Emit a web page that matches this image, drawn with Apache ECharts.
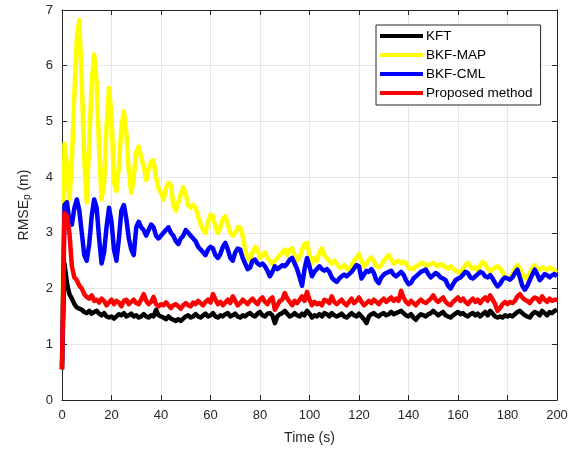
<!DOCTYPE html>
<html>
<head>
<meta charset="utf-8">
<script src="https://cdn.jsdelivr.net/npm/echarts@6/dist/echarts.min.js"></script>
<style>
  html, body { margin: 0; padding: 0; background: #fff; }
  #chart { width: 585px; height: 452px; }
</style>
</head>
<body>
<div id="chart"></div>
<script>
  // RMSE_p samples, one per second (t = 0 .. 200 s)
  const kft = [
    0.55, 2.45, 2.1, 1.9, 1.82, 1.72, 1.66, 1.64, 1.62, 1.58,
    1.56, 1.6, 1.55, 1.58, 1.6, 1.55, 1.52, 1.56, 1.5, 1.48,
    1.5, 1.46, 1.5, 1.54, 1.52, 1.56, 1.5, 1.52, 1.55, 1.5,
    1.52, 1.48, 1.5, 1.54, 1.5, 1.48, 1.52, 1.5, 1.62, 1.52,
    1.5, 1.48, 1.45, 1.5, 1.46, 1.44, 1.42, 1.45, 1.42, 1.46,
    1.5, 1.52, 1.48, 1.5, 1.54, 1.5, 1.48, 1.52, 1.55, 1.5,
    1.52, 1.56, 1.5, 1.48, 1.52, 1.5, 1.54, 1.56, 1.5, 1.52,
    1.55, 1.5, 1.48, 1.52, 1.5, 1.54, 1.56, 1.52, 1.5, 1.55,
    1.58, 1.52, 1.5, 1.55, 1.56, 1.52, 1.38, 1.5, 1.54, 1.56,
    1.6, 1.55, 1.5, 1.52, 1.56, 1.52, 1.5, 1.55, 1.52, 1.6,
    1.55, 1.48, 1.52, 1.5, 1.54, 1.5, 1.56, 1.54, 1.5, 1.56,
    1.52, 1.5, 1.52, 1.55, 1.5, 1.48, 1.52, 1.56, 1.52, 1.5,
    1.55, 1.5, 1.45, 1.38, 1.5, 1.54, 1.56, 1.52, 1.5, 1.54,
    1.56, 1.52, 1.54, 1.58, 1.54, 1.56, 1.58, 1.6, 1.56, 1.52,
    1.5, 1.54, 1.48, 1.44, 1.5, 1.54, 1.52, 1.5, 1.54, 1.56,
    1.6, 1.56, 1.52, 1.55, 1.58, 1.52, 1.5, 1.48, 1.52, 1.55,
    1.58, 1.54, 1.56, 1.52, 1.5, 1.54, 1.56, 1.52, 1.55, 1.5,
    1.54, 1.58, 1.52, 1.6, 1.55, 1.5, 1.48, 1.5, 1.48, 1.52,
    1.5, 1.52, 1.5, 1.54, 1.58, 1.6, 1.56, 1.52, 1.5, 1.48,
    1.54, 1.58, 1.56, 1.52, 1.6, 1.56, 1.52, 1.58, 1.56, 1.6,
    1.62
  ]

  const bkfMap = [
    0.6, 4.6, 4.2, 3.6, 4.3, 5.5, 6.5, 6.82, 5.7, 4.3,
    3.55, 4.6, 5.7, 6.2, 5.7, 4.5, 3.6, 3.9, 4.9, 5.6,
    5.1, 3.9, 3.75, 4.2, 4.9, 5.18, 4.8, 4.1, 3.72, 4.0,
    4.45, 4.55, 4.35, 4.2, 3.95, 4.15, 4.28, 4.3, 4.0, 3.8,
    3.72, 3.6, 3.8, 3.9, 3.85, 3.5, 3.4, 3.55, 3.7, 3.82,
    3.7, 3.5, 3.45, 3.5, 3.45, 3.3, 3.15, 3.05, 3.0, 3.2,
    3.33, 3.3, 3.1, 3.0, 3.1, 3.25, 3.3, 3.15, 3.0, 2.95,
    3.0, 3.1, 3.1, 2.95, 2.7, 2.55, 2.5, 2.65, 2.75, 2.7,
    2.55, 2.6, 2.65, 2.55, 2.5, 2.45, 2.5, 2.55, 2.6, 2.65,
    2.7, 2.6, 2.7, 2.72, 2.6, 2.5, 2.55, 2.7, 2.8, 2.82,
    2.6, 2.45, 2.55, 2.5, 2.65, 2.72, 2.6, 2.55, 2.5, 2.45,
    2.5, 2.45, 2.38, 2.38, 2.42, 2.36, 2.34, 2.42, 2.5, 2.55,
    2.62, 2.5, 2.4, 2.45, 2.52, 2.56, 2.5, 2.4, 2.38, 2.42,
    2.5, 2.55, 2.6, 2.52, 2.45, 2.48, 2.5, 2.45, 2.48, 2.46,
    2.38, 2.35, 2.35, 2.4, 2.42, 2.45, 2.46, 2.4, 2.42, 2.44,
    2.46, 2.42, 2.4, 2.44, 2.42, 2.38, 2.36, 2.4, 2.36, 2.32,
    2.3, 2.28, 2.35, 2.42, 2.46, 2.4, 2.36, 2.38, 2.32, 2.42,
    2.48, 2.44, 2.36, 2.3, 2.34, 2.38, 2.4, 2.36, 2.3, 2.22,
    2.18, 2.2, 2.26, 2.36, 2.42, 2.36, 2.26, 2.18, 2.2, 2.28,
    2.36, 2.42, 2.36, 2.34, 2.38, 2.36, 2.34, 2.38, 2.36, 2.32,
    2.34
  ]

  const bkfCml = [
    0.6, 3.5, 3.55, 3.2, 3.15, 3.45, 3.6, 3.4, 3.0, 2.6,
    2.5, 2.8, 3.3, 3.6, 3.45, 2.9, 2.45, 2.65, 3.1, 3.45,
    3.2, 2.7, 2.5, 2.9, 3.4, 3.5, 3.25, 2.9, 2.7, 2.6,
    3.1, 3.2, 3.1, 3.05, 2.95, 3.05, 3.15, 3.1, 2.95, 2.9,
    2.95, 3.0, 3.05, 3.1, 3.0, 2.95, 2.85, 2.8, 2.9, 2.95,
    3.05, 3.0, 2.95, 2.9, 2.85, 2.75, 2.7, 2.65, 2.6, 2.7,
    2.75, 2.72, 2.6, 2.55, 2.62, 2.75, 2.82, 2.7, 2.55, 2.5,
    2.65, 2.72, 2.7, 2.55, 2.45, 2.35, 2.38, 2.5, 2.52, 2.45,
    2.42, 2.45, 2.4, 2.32, 2.22, 2.3, 2.4, 2.35, 2.38, 2.42,
    2.4, 2.45, 2.52, 2.55, 2.45, 2.35, 2.2, 2.05, 2.35, 2.55,
    2.4, 2.22, 2.3, 2.35, 2.4, 2.35, 2.32, 2.35, 2.3, 2.2,
    2.15, 2.12, 2.18, 2.22, 2.25, 2.22, 2.26, 2.3, 2.36, 2.42,
    2.4, 2.18, 2.25, 2.32, 2.3, 2.35, 2.28, 2.15, 2.1, 2.2,
    2.25, 2.28, 2.3, 2.32, 2.25, 2.22, 2.26, 2.3, 2.25, 2.15,
    2.08, 2.1, 2.18, 2.22, 2.26, 2.3, 2.32, 2.34, 2.26, 2.2,
    2.24, 2.28, 2.25, 2.2, 2.18, 2.15, 2.05, 2.0, 2.08, 2.15,
    2.18, 2.2, 2.25, 2.3, 2.28, 2.2, 2.18, 2.22, 2.26, 2.3,
    2.28, 2.22, 2.2, 2.24, 2.18, 2.1, 2.04, 2.08, 2.16, 2.2,
    2.18, 2.16, 2.2, 2.28, 2.34, 2.2, 2.05, 1.98, 2.05, 2.15,
    2.25, 2.34, 2.26, 2.15, 2.2, 2.26, 2.24, 2.2, 2.24, 2.26,
    2.22
  ]

  const proposed = [
    0.55, 3.35, 3.3, 3.0, 2.4, 2.2, 2.15, 2.05, 2.0, 1.9,
    1.85, 1.82, 1.88, 1.78, 1.8, 1.75, 1.82, 1.78, 1.7, 1.75,
    1.8, 1.72, 1.78, 1.75, 1.68, 1.78, 1.8, 1.72, 1.76, 1.8,
    1.74, 1.72, 1.8, 1.9, 1.78, 1.72, 1.76, 1.85, 1.72, 1.68,
    1.72, 1.7, 1.75, 1.7, 1.65, 1.7, 1.72, 1.68, 1.64, 1.7,
    1.74, 1.7, 1.68, 1.75, 1.72, 1.78, 1.74, 1.7, 1.76, 1.8,
    1.75, 1.9, 1.8, 1.72, 1.76, 1.7, 1.75, 1.8, 1.74, 1.86,
    1.78, 1.7, 1.74, 1.8, 1.76, 1.72, 1.78, 1.82, 1.76, 1.72,
    1.8, 1.84, 1.76, 1.72, 1.8, 1.84, 1.62, 1.7, 1.78, 1.8,
    1.92, 1.82, 1.76, 1.7, 1.78, 1.74, 1.8, 1.86, 1.78, 1.94,
    1.8, 1.7, 1.76, 1.72, 1.74, 1.7, 1.8, 1.78, 1.74, 1.86,
    1.76, 1.72, 1.76, 1.8, 1.74, 1.7, 1.76, 1.82, 1.74, 1.78,
    1.84, 1.76, 1.7, 1.74, 1.78, 1.74, 1.8, 1.76, 1.72, 1.78,
    1.82, 1.76, 1.8, 1.84, 1.78, 1.82, 1.78, 1.96, 1.84, 1.76,
    1.72, 1.78, 1.74, 1.7, 1.76, 1.8, 1.76, 1.74, 1.78, 1.82,
    1.88, 1.8, 1.76, 1.8, 1.84, 1.76, 1.72, 1.7, 1.76, 1.8,
    1.84, 1.78, 1.82, 1.76, 1.72, 1.78, 1.82, 1.76, 1.8, 1.74,
    1.8, 1.84, 1.78, 1.88, 1.8, 1.72, 1.6, 1.65, 1.72, 1.76,
    1.72, 1.76, 1.74, 1.78, 1.86, 1.9, 1.84, 1.8, 1.78, 1.74,
    1.8, 1.84, 1.82, 1.76, 1.86, 1.8, 1.76, 1.82, 1.78, 1.8,
    1.8
  ]

  const seriesNames = ['KFT', 'BKF-MAP', 'BKF-CML', 'Proposed method']
  const seriesColors = ['#000000', '#ffff00', '#0000ff', '#ff0000']
  const seriesValues = [kft, bkfMap, bkfCml, proposed]

  const font = 'Liberation Sans, Arial, sans-serif'
  const axisColor = '#262626'

  const chart = echarts.init(document.getElementById('chart'))

  const tickStyle = { show: true, inside: true, length: 5, lineStyle: { color: axisColor } }
  const lineStyle = { show: true, onZero: false, lineStyle: { color: axisColor } }

  chart.setOption({
    animation: false,
    backgroundColor: '#fff',
    textStyle: { fontFamily: font },
    grid: { left: 62, right: 28, top: 10, bottom: 52, containLabel: false },
    legend: {
      orient: 'vertical',
      left: 376,
      top: 25,
      padding: [4, 8, 5, 4],
      itemGap: 5,
      itemWidth: 43,
      itemHeight: 4,
      icon: 'rect',
      backgroundColor: '#fff',
      borderColor: axisColor,
      borderWidth: 1,
      borderRadius: 0,
      textStyle: { fontFamily: font, fontSize: 13.5, color: '#000', padding: [0, 0, 0, -2] },
      data: seriesNames
    },
    xAxis: [{
      type: 'value',
      min: 0,
      max: 200,
      interval: 20,
      name: 'Time (s)',
      nameLocation: 'middle',
      nameGap: 31,
      nameTextStyle: { fontFamily: font, fontSize: 14, color: axisColor },
      axisLine: lineStyle,
      axisTick: tickStyle,
      axisLabel: { fontFamily: font, fontSize: 13, color: axisColor, margin: 9 },
      splitLine: { show: true, lineStyle: { color: '#e6e6e6' } }
    }, {
      type: 'value',
      position: 'top',
      min: 0,
      max: 200,
      interval: 20,
      axisLine: lineStyle,
      axisTick: tickStyle,
      axisLabel: { show: false },
      splitLine: { show: false }
    }],
    yAxis: [{
      type: 'value',
      min: 0,
      max: 7,
      interval: 1,
      name: 'RMSE{sub|p} (m)',
      nameLocation: 'middle',
      nameGap: 30,
      nameTextStyle: {
        fontFamily: font,
        fontSize: 14,
        color: axisColor,
        rich: {
          sub: { fontFamily: font, fontSize: 10, color: axisColor, verticalAlign: 'bottom', padding: [6, 0, 0, 0] }
        }
      },
      axisLine: lineStyle,
      axisTick: tickStyle,
      axisLabel: { fontFamily: font, fontSize: 13, color: axisColor, margin: 9 },
      splitLine: { show: true, lineStyle: { color: '#e6e6e6' } }
    }, {
      type: 'value',
      position: 'right',
      min: 0,
      max: 7,
      interval: 1,
      axisLine: lineStyle,
      axisTick: tickStyle,
      axisLabel: { show: false },
      splitLine: { show: false }
    }],
    series: seriesValues.map((values, k) => ({
      name: seriesNames[k],
      type: 'line',
      data: values.map((v, i) => [i, v]),
      showSymbol: false,
      symbol: 'none',
      color: seriesColors[k],
      lineStyle: { color: seriesColors[k], width: 4.5, join: 'round' },
      z: 2 + k
    }))
  })
</script>
</body>
</html>
